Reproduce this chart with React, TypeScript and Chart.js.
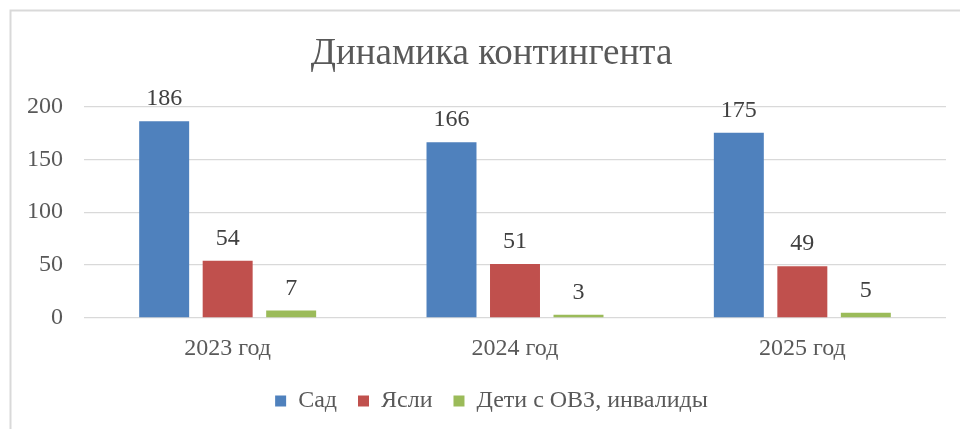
import React, { useEffect, useRef } from "react";
import { Chart, registerables } from "chart.js";

Chart.register(...registerables);

const categories = ["2023 год", "2024 год", "2025 год"];
const sadValues = [186, 166, 175];
const yasliValues = [54, 51, 49];
const ovzValues = [7, 3, 5];
const seriesNames = ["Сад", "Ясли", "Дети с ОВЗ, инвалиды"];
const titleText = "Динамика контингента";

const FONT = "'Liberation Serif', 'Times New Roman', serif";

Chart.defaults.font.family = FONT;
Chart.defaults.font.size = 24;
Chart.defaults.color = "#595959";

const borderPlugin = {
  id: "frameBorder",
  beforeDraw(chart: any) {
    const ctx = chart.ctx;
    ctx.save();
    ctx.fillStyle = "#ffffff";
    ctx.fillRect(0, 0, chart.width, chart.height);
    ctx.strokeStyle = "#d9d9d9";
    ctx.lineWidth = 2;
    ctx.strokeRect(10.5, 10.5, 2000, 2000);
    ctx.restore();
  },
};

const dataLabelPlugin = {
  id: "dataLabels",
  afterDatasetsDraw(chart: any) {
    const ctx = chart.ctx;
    ctx.save();
    ctx.font = `24px ${FONT}`;
    ctx.fillStyle = "#404040";
    ctx.textAlign = "center";
    ctx.textBaseline = "alphabetic";
    chart.data.datasets.forEach((ds: any, i: number) => {
      const meta = chart.getDatasetMeta(i);
      meta.data.forEach((el: any, j: number) => {
        ctx.fillText(String(ds.data[j]), el.x, el.y - 16);
      });
    });
    ctx.restore();
  },
};

export default function App() {
  const ref = useRef<HTMLCanvasElement | null>(null);

  useEffect(() => {
    if (!ref.current) return;
    const chart = new Chart(ref.current, {
      type: "bar",
      data: {
        labels: categories,
        datasets: [
          { label: seriesNames[0], data: sadValues, backgroundColor: "#4F81BD" },
          { label: seriesNames[1], data: yasliValues, backgroundColor: "#C0504D" },
          { label: seriesNames[2], data: ovzValues, backgroundColor: "#9BBB59" },
        ],
      },
      options: {
        animation: false,
        responsive: false,
        layout: { padding: { left: 23, right: 0, top: 0, bottom: 6 } },
        datasets: {
          bar: { categoryPercentage: 0.663, barPercentage: 0.787 },
        },
        scales: {
          x: {
            afterFit: (scale: any) => {
              scale.height = 50;
            },
            grid: { display: false, drawTicks: false },
            border: { display: false },
            ticks: {
              padding: 16,
              color: "#595959",
              font: { family: FONT, size: 24 },
            },
          },
          y: {
            min: 0,
            max: 200,
            afterFit: (scale: any) => {
              scale.width = 61;
            },
            grid: { color: "#d9d9d9", lineWidth: 1.3, drawTicks: false },
            border: { display: false },
            ticks: {
              stepSize: 50,
              padding: 21,
              color: "#595959",
              font: { family: FONT, size: 24 },
            },
          },
          y2: {
            type: "linear",
            position: "right",
            afterFit: (scale: any) => {
              scale.width = 14;
            },
            grid: { display: false, drawTicks: false },
            border: { display: false },
            ticks: { display: false },
          },
        },
        plugins: {
          title: {
            display: true,
            text: titleText,
            color: "#595959",
            font: { family: FONT, size: 37, weight: "normal" },
            padding: { top: 32, bottom: 30 },
          },
          legend: {
            position: "bottom",
            labels: {
              boxWidth: 11,
              boxHeight: 11,
              padding: 21,
              color: "#595959",
              font: { family: FONT, size: 24 },
            },
          },
          tooltip: { enabled: false },
        },
      },
      plugins: [borderPlugin, dataLabelPlugin],
    } as any);
    return () => chart.destroy();
  }, []);

  return (
    <div style={{ position: "absolute", left: 0, top: 0, width: 960, height: 429 }}>
      <canvas ref={ref} width={960} height={429} />
    </div>
  );
}
